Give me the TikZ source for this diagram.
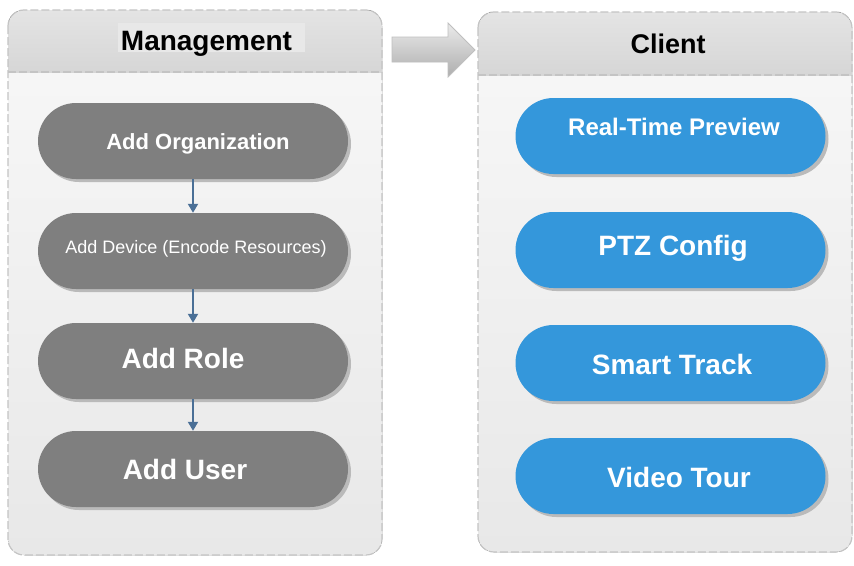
\documentclass[tikz,border=0pt]{standalone}
\usepackage{fontspec}
\setmainfont{Liberation Sans}
\usetikzlibrary{arrows.meta,shapes.misc,shadows}
\definecolor{pillgray}{HTML}{7F7F7F}
\definecolor{pillblue}{HTML}{3497DB}
\definecolor{linkblue}{HTML}{4A6F96}
\definecolor{panelline}{HTML}{C4C4C4}
\definecolor{headtop}{HTML}{E4E4E4}
\definecolor{headbot}{HTML}{D6D6D6}
\definecolor{bodytop}{HTML}{F8F8F8}
\definecolor{bodybot}{HTML}{E8E8E8}
\tikzset{
  panelbody/.style={top color=bodytop,bottom color=bodybot},
  panelframe/.style={draw=panelline,line width=1.2pt,dash pattern=on 8pt off 3pt,rounded corners=16pt},
  headband/.style={top color=headtop,bottom color=headbot},
  pill/.style={rounded rectangle,minimum width=310pt,minimum height=76pt,inner sep=0pt,
    drop shadow={shadow xshift=3pt,shadow yshift=-3pt,fill=black!27,opacity=1}},
  graypill/.style={pill,fill=pillgray},
  bluepill/.style={pill,fill=pillblue},
  ptext/.style={text=white,font=\bfseries\fontsize{28}{30}\selectfont,anchor=base,inner sep=0pt},
  htext/.style={text=black,font=\bfseries\fontsize{28}{30}\selectfont,anchor=base,inner sep=0pt},
  link/.style={draw=linkblue,line width=2pt,-{Triangle[width=10pt,length=9pt]}},
  bigarrow/.style={top color=black!8,bottom color=black!32,draw=black!25,line width=0.8pt}
}
\begin{document}
\begin{tikzpicture}[x=1pt,y=-1pt]
\useasboundingbox (0,0) rectangle (854,565);
\fill[white] (0,0) rectangle (854,565);
% left panel
\fill[panelbody,rounded corners=16pt] (8,10) rectangle (382,555);
\begin{scope}
  \clip[rounded corners=16pt] (8,10) rectangle (382,555);
  \fill[headband] (8,10) rectangle (382,72);
\end{scope}
\draw[panelline,line width=1.2pt,dash pattern=on 8pt off 3pt] (8,72) -- (382,72);
\draw[panelframe] (8,10) rectangle (382,555);
\fill[black!9] (118,23) rectangle (305,52);
\node[htext] (mgmt) at (206.5,50) {Management};
% right panel
\fill[panelbody,rounded corners=16pt] (478,12) rectangle (852,552);
\begin{scope}
  \clip[rounded corners=16pt] (478,12) rectangle (852,552);
  \fill[headband] (478,12) rectangle (852,75);
\end{scope}
\draw[panelline,line width=1.2pt,dash pattern=on 8pt off 3pt] (478,75) -- (852,75);
\draw[panelframe] (478,12) rectangle (852,552);
\node[htext,font=\bfseries\fontsize{27}{30}\selectfont] (client) at (668,53) {Client};
% big arrow
\path[bigarrow] (392,37) -- (448,37) -- (448,23) -- (475,50) -- (448,77) -- (448,62) -- (392,62) -- cycle;
% left pills
\node[graypill] (org) at (193,141) {};
\node[graypill] (dev) at (193,251) {};
\node[graypill] (role) at (193,361) {};
\node[graypill] (user) at (193,469) {};
\node[ptext,font=\bfseries\fontsize{22}{24}\selectfont] (orgt) at (198,149) {Add Organization};
\node[ptext,font=\fontsize{18}{20}\selectfont] (devt) at (196,253) {Add Device (Encode Resources)};
\node[ptext] (rolet) at (183,368) {Add Role};
\node[ptext] (usert) at (185,479) {Add User};
\draw[link] (org.south) -- (dev.north);
\draw[link] (dev.south) -- (role.north);
\draw[link] (role.south) -- (user.north);
% right pills
\node[bluepill] (rtp) at (670.5,136) {};
\node[bluepill] (ptz) at (670.5,250) {};
\node[bluepill] (smart) at (670.5,363) {};
\node[bluepill] (tour) at (670.5,476) {};
\node[ptext,font=\bfseries\fontsize{24}{26}\selectfont] (rtpt) at (674,135) {Real-Time Preview};
\node[ptext] (ptzt) at (673,255) {PTZ Config};
\node[ptext] (smartt) at (672,374) {Smart Track};
\node[ptext] (tourt) at (679,487) {Video Tour};
\end{tikzpicture}
\end{document}
